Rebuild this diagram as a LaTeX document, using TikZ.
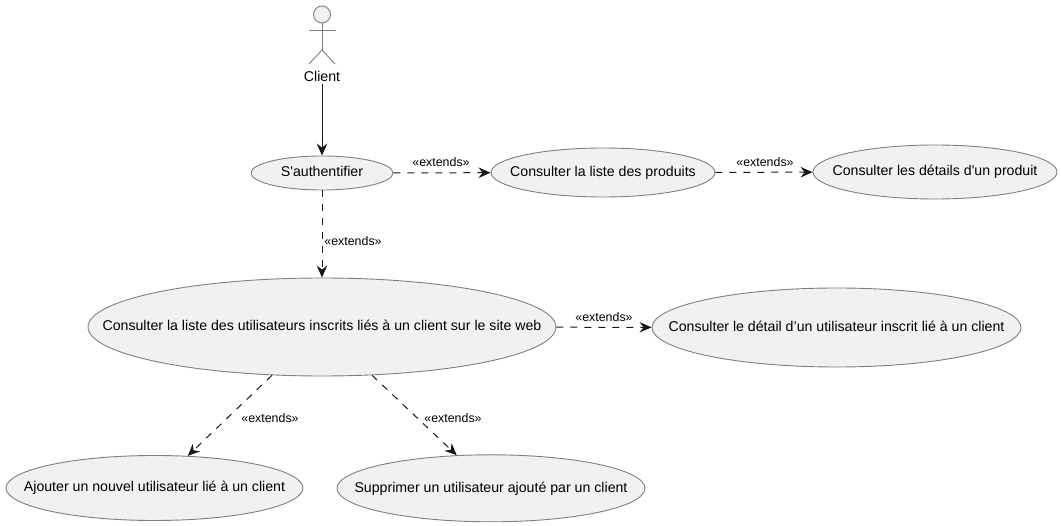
\documentclass[tikz,border=0pt]{standalone}
\usepackage{fontspec}
\setmainfont{Liberation Sans}
\usetikzlibrary{arrows.meta,shapes.geometric}
\definecolor{ucfill}{HTML}{F1F1F1}
\definecolor{ucline}{HTML}{7F7F7F}
\definecolor{ucarrow}{HTML}{181818}
\newcommand{\uctext}[1]{\makebox[0pt][c]{\vphantom{Apj}#1}}
\tikzset{
    usecase/.style={ellipse,draw=ucline,fill=ucfill,line width=0.9pt,inner sep=0pt,font=\fontsize{14.15}{16}\selectfont,text=black},
    actorline/.style={draw=ucline,line width=0.9pt},
    assoc/.style={draw=ucarrow,line width=1pt,-{Stealth[length=12pt,width=10.5pt,inset=4pt]}},
    extend/.style={assoc,dash pattern=on 7pt off 7pt},
    extlabel/.style={inner sep=0pt,font=\fontsize{12.4}{14}\selectfont,text=black}
}

\begin{document}
\begin{tikzpicture}[x=1pt,y=-1pt]
                \useasboundingbox (0, 0) rectangle (1061, 526);

                % actor
                \draw[actorline,fill=ucfill] (322, 14.5) circle (8.5pt);
                \draw[actorline] (322, 23) -- (322, 50);
                \draw[actorline] (309, 30) -- (336, 30);
                \draw[actorline] (309, 64) -- (322, 50) -- (335, 64);
                \node[inner sep=0pt,minimum height=16pt,font=\fontsize{14.15}{16}\selectfont] (client) at (322, 76) {Client};

                % use cases
                \node[usecase,minimum width=142pt,minimum height=34pt] (auth) at (322, 173) {\uctext{S\textquotesingle authentifier}};
                \node[usecase,minimum width=224pt,minimum height=49pt] (produits) at (603, 172.5) {\uctext{Consulter la liste des produits}};
                \node[usecase,minimum width=244pt,minimum height=54pt] (details) at (935, 172) {\uctext{Consulter les détails d\textquotesingle un produit}};
                \node[usecase,minimum width=468pt,minimum height=98pt] (liste) at (322, 327) {\uctext{Consulter la liste des utilisateurs inscrits liés à un client sur le site web}};
                \node[usecase,minimum width=369pt,minimum height=79pt] (detail) at (836.5, 327.5) {\uctext{Consulter le détail d’un utilisateur inscrit lié à un client}};
                \node[usecase,minimum width=297pt,minimum height=65pt] (ajouter) at (154.5, 488) {\uctext{Ajouter un nouvel utilisateur lié à un client}};
                \node[usecase,minimum width=308pt,minimum height=67pt] (supprimer) at (491, 488.3) {\uctext{Supprimer un utilisateur ajouté par un client}};

                % connectors
                \draw[assoc] (client) -- (auth);
                \draw[extend] (auth) -- (produits);
                \draw[extend] (produits) -- (details);
                \draw[extend] (auth) -- (liste);
                \draw[extend] (liste) -- (detail);
                \draw[extend] (liste.224) -- (ajouter.44);
                \draw[extend] (liste.316) -- (supprimer.136);

                % labels
                \node[extlabel] (lblproduits) at (441, 162) {«extends»};
                \node[extlabel] (lbldetails) at (765, 162) {«extends»};
                \node[extlabel] (lblliste) at (353, 241) {«extends»};
                \node[extlabel] (lbldetail) at (604, 317) {«extends»};
                \node[extlabel] (lblajouter) at (270, 418) {«extends»};
                \node[extlabel] (lblsupprimer) at (453, 418) {«extends»};
            \end{tikzpicture}
\end{document}
